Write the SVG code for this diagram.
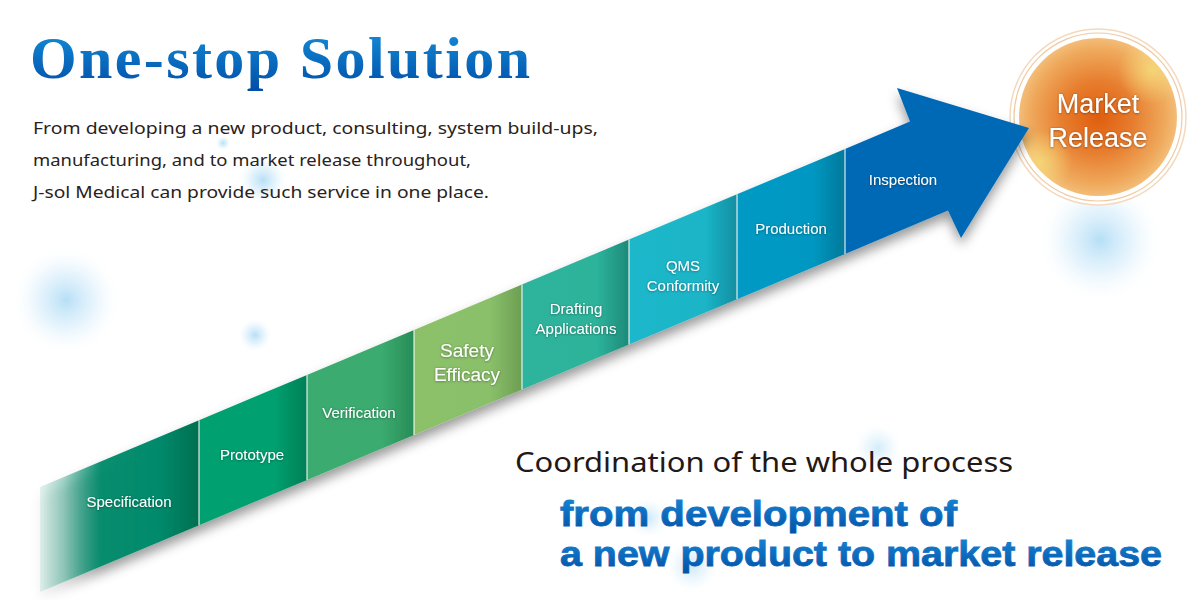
<svg xmlns="http://www.w3.org/2000/svg" width="1200" height="600" viewBox="0 0 1200 600">
<defs>
<style>
.lbl{font-family:"Liberation Sans","Noto Sans",sans-serif;font-size:15px;fill:#fff;text-anchor:middle;filter:url(#ts)}
.lbl2{font-family:"Liberation Sans","Noto Sans",sans-serif;font-size:19px;fill:#fff;text-anchor:middle;filter:url(#ts)}
.para{font-family:"Noto Sans","Liberation Sans",sans-serif;font-size:17px;fill:#2a2220}
.sep{stroke:#fff;stroke-width:1.2;stroke-opacity:0.85}
.big{font-family:"Liberation Sans Narrow","Liberation Sans",sans-serif;font-weight:bold;font-size:35px;fill:url(#gBlueV);stroke:url(#gBlueV);stroke-width:0.8}
</style>
<filter id="ts" x="-20%" y="-50%" width="140%" height="200%"><feDropShadow dx="0" dy="0.5" stdDeviation="1.2" flood-color="#000" flood-opacity="0.45"/></filter>
<filter id="sh" x="-10%" y="-20%" width="120%" height="150%"><feDropShadow dx="0" dy="7" stdDeviation="6" flood-color="#000" flood-opacity="0.4"/></filter>
<radialGradient id="glow"><stop offset="0" stop-color="#a9d9f5" stop-opacity="0.85"/><stop offset="0.5" stop-color="#c8e7f9" stop-opacity="0.45"/><stop offset="1" stop-color="#ffffff" stop-opacity="0"/></radialGradient>
<linearGradient id="gTitle" x1="0" y1="0" x2="0" y2="1"><stop offset="0" stop-color="#1690dc"/><stop offset="1" stop-color="#004ea6"/></linearGradient>
<linearGradient id="gBlueV" x1="0" y1="0" x2="0" y2="1"><stop offset="0" stop-color="#1a88d6"/><stop offset="1" stop-color="#0052a8"/></linearGradient>
<linearGradient id="gSpec" x1="0" y1="0" x2="1" y2="0"><stop offset="0" stop-color="#008a6a" stop-opacity="0.1"/><stop offset="0.15" stop-color="#008a6a" stop-opacity="0.35"/><stop offset="0.38" stop-color="#008a6a" stop-opacity="0.95"/><stop offset="0.75" stop-color="#008a6c"/><stop offset="1" stop-color="#00704f"/></linearGradient>
<linearGradient id="gProto" x1="0" y1="0" x2="1" y2="0"><stop offset="0" stop-color="#00a06f"/><stop offset="0.7" stop-color="#00a06f"/><stop offset="1" stop-color="#007f56"/></linearGradient>
<linearGradient id="gVer" x1="0" y1="0" x2="1" y2="0"><stop offset="0" stop-color="#3bab6f"/><stop offset="0.7" stop-color="#3bab6f"/><stop offset="1" stop-color="#278c57"/></linearGradient>
<linearGradient id="gSaf" x1="0" y1="0" x2="1" y2="0"><stop offset="0" stop-color="#8cc16b"/><stop offset="0.7" stop-color="#8ac06a"/><stop offset="1" stop-color="#6d9e52"/></linearGradient>
<linearGradient id="gDraft" x1="0" y1="0" x2="1" y2="0"><stop offset="0" stop-color="#2eb39c"/><stop offset="0.7" stop-color="#2db39b"/><stop offset="1" stop-color="#1d8a79"/></linearGradient>
<linearGradient id="gQms" x1="0" y1="0" x2="1" y2="0"><stop offset="0" stop-color="#1db7ca"/><stop offset="0.7" stop-color="#1ab5c8"/><stop offset="1" stop-color="#178ea1"/></linearGradient>
<linearGradient id="gProd" x1="0" y1="0" x2="1" y2="0"><stop offset="0" stop-color="#009ac4"/><stop offset="0.7" stop-color="#0098c2"/><stop offset="1" stop-color="#07789a"/></linearGradient>
<radialGradient id="gOrange" cx="0.5" cy="0.5" r="0.5"><stop offset="0" stop-color="#df5e0e"/><stop offset="0.45" stop-color="#e77d2e"/><stop offset="0.85" stop-color="#efa95c"/><stop offset="1" stop-color="#f3bd78"/></radialGradient>
<radialGradient id="gYel" cx="0.5" cy="0.5" r="0.5"><stop offset="0" stop-color="#f6dc7a" stop-opacity="0.8"/><stop offset="1" stop-color="#f6dc7a" stop-opacity="0"/></radialGradient>
<clipPath id="disk"><circle cx="1098" cy="117" r="79"/></clipPath>
</defs>
<rect width="1200" height="600" fill="#fff"/>
<g id="glows">
<circle cx="1100" cy="240" r="64" fill="url(#glow)"/>
<circle cx="66" cy="300" r="56" fill="url(#glow)"/>
<circle cx="255" cy="335" r="18" fill="url(#glow)"/>
<circle cx="263" cy="180" r="26" fill="url(#glow)"/>
<circle cx="223" cy="143" r="8" fill="url(#glow)"/>
<circle cx="648" cy="518" r="22" fill="url(#glow)" opacity="0.7"/>
<circle cx="692" cy="566" r="28" fill="url(#glow)" opacity="0.7"/>
<circle cx="878" cy="448" r="26" fill="url(#glow)" opacity="0.6"/>
</g>
<g id="title">
<text x="30" y="78" font-family="Liberation Serif,serif" font-weight="bold" font-size="60" fill="url(#gTitle)" textLength="500" lengthAdjust="spacing">One-stop Solution</text>
</g>
<g id="intro">
<text class="para" x="33" y="134" textLength="565" lengthAdjust="spacingAndGlyphs">From developing a new product, consulting, system build-ups,</text>
<text class="para" x="33" y="166" textLength="438" lengthAdjust="spacingAndGlyphs">manufacturing, and to market release throughout,</text>
<text class="para" x="33" y="198" textLength="456" lengthAdjust="spacingAndGlyphs">J-sol Medical can provide such service in one place.</text>
</g>
<g id="market-release">
<circle cx="1098" cy="117" r="88" fill="#fff" stroke="#f4d9bd" stroke-width="1.5"/>
<circle cx="1098" cy="117" r="84" fill="none" stroke="#efcaa2" stroke-width="1.2"/>
<circle cx="1098" cy="117" r="79" fill="url(#gOrange)"/>
<g clip-path="url(#disk)">
<circle cx="1152" cy="70" r="34" fill="url(#gYel)"/>
<circle cx="1040" cy="162" r="32" fill="url(#gYel)"/>
</g>
<text x="1098" y="113" font-family="Liberation Sans,sans-serif" font-size="27" fill="#fff" text-anchor="middle" filter="url(#ts)">Market</text>
<text x="1098" y="147" font-family="Liberation Sans,sans-serif" font-size="27" fill="#fff" text-anchor="middle" filter="url(#ts)">Release</text>
</g>
<g id="connectors" filter="url(#sh)">
<polygon id="arrow-head" points="845,148.9 910,121.6 897,88 1029,128 961,238 948,210.6 845,253.9" fill="#0069b6"/>
<polygon points="40,487 199,420.2 199,525.2 40,592" fill="url(#gSpec)"/>
<polygon points="199,420.2 307,374.9 307,479.9 199,525.2" fill="url(#gProto)"/>
<polygon points="307,374.9 414,329.9 414,434.9 307,479.9" fill="url(#gVer)"/>
<polygon points="414,329.9 522,284.6 522,389.6 414,434.9" fill="url(#gSaf)"/>
<polygon points="522,284.6 629,239.6 629,344.6 522,389.6" fill="url(#gDraft)"/>
<polygon points="629,239.6 737,194.3 737,299.3 629,344.6" fill="url(#gQms)"/>
<polygon points="737,194.3 845,148.9 845,253.9 737,299.3" fill="url(#gProd)"/>
</g>
<g id="separators">
<line class="sep" x1="199" y1="420.2" x2="199" y2="525.2"/>
<line class="sep" x1="307" y1="374.9" x2="307" y2="479.9"/>
<line class="sep" x1="414" y1="329.9" x2="414" y2="434.9"/>
<line class="sep" x1="522" y1="284.6" x2="522" y2="389.6"/>
<line class="sep" x1="629" y1="239.6" x2="629" y2="344.6"/>
<line class="sep" x1="737" y1="194.3" x2="737" y2="299.3"/>
<line class="sep" x1="845" y1="148.9" x2="845" y2="253.9"/>
</g>
<g id="specification"><text class="lbl" x="129" y="507">Specification</text></g>
<g id="prototype"><text class="lbl" x="252" y="460">Prototype</text></g>
<g id="verification"><text class="lbl" x="359" y="418">Verification</text></g>
<g id="safety-efficacy"><text class="lbl2" x="467" y="357">Safety</text><text class="lbl2" x="467" y="381">Efficacy</text></g>
<g id="drafting-applications"><text class="lbl" x="576" y="314">Drafting</text><text class="lbl" x="576" y="334">Applications</text></g>
<g id="qms-conformity"><text class="lbl" x="683" y="271">QMS</text><text class="lbl" x="683" y="291">Conformity</text></g>
<g id="production"><text class="lbl" x="791" y="234">Production</text></g>
<g id="inspection"><text class="lbl" x="903" y="185">Inspection</text></g>
<g id="tagline">
<text x="515" y="472" font-family="Noto Sans,Liberation Sans,sans-serif" font-size="27" fill="#231815" textLength="498" lengthAdjust="spacingAndGlyphs">Coordination of the whole process</text>
<text class="big" x="560" y="526" textLength="397" lengthAdjust="spacingAndGlyphs">from development of</text>
<text class="big" x="560" y="566" textLength="602" lengthAdjust="spacingAndGlyphs">a new product to market release</text>
</g>
</svg>
